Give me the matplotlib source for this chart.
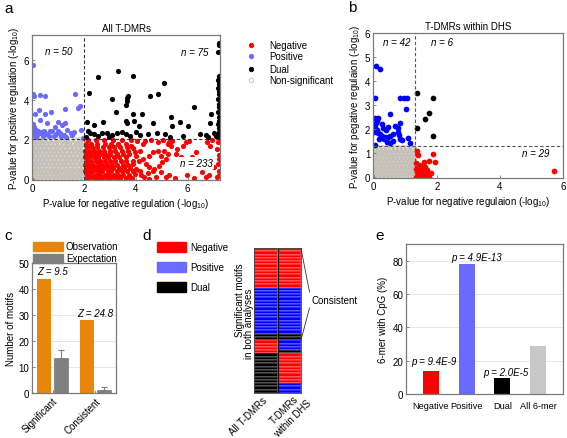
import matplotlib
matplotlib.use('Agg')
import matplotlib.pyplot as plt
from matplotlib.lines import Line2D
from matplotlib.patches import Rectangle
from matplotlib.colors import ListedColormap
import numpy as np

plt.rcParams['font.family'] = ['Liberation Sans', 'DejaVu Sans']
plt.rcParams['mathtext.fontset'] = 'custom'
plt.rcParams['mathtext.rm'] = 'Liberation Sans'
plt.rcParams['mathtext.it'] = 'Liberation Sans:italic'
FS = 7.0
plt.rcParams['font.size'] = FS

# ---------------- data ----------------
# Panel a: All T-DMRs (x: -log10 P negative, y: -log10 P positive)
a_positive = [(0.01,5.78),(0.01,4.29),(0.05,4.17),(0.30,4.25),(0.50,4.20),(1.65,4.29),(1.85,3.70),(1.76,3.58),
              (0.27,3.50),(0.10,3.28),(0.72,3.36),(0.50,3.30),(1.24,3.53),(0.30,3.00),(0.00,2.80),(0.00,2.68),
              (0.02,2.52),(0.05,2.35),(0.00,2.20),(0.56,2.85),(0.97,2.90),(1.24,2.82),(1.14,2.70),(0.86,2.60),
              (0.15,2.47),(0.44,2.44),(0.67,2.44),(1.00,2.44),(0.30,2.30),(0.18,2.20),(0.38,2.35),(0.56,2.28),
              (0.76,2.40),(0.90,2.25),(1.08,2.32),(1.20,2.22),(1.34,2.45),(1.48,2.30),(1.52,2.20),(1.88,2.48),
              (0.12,2.12),(0.22,2.40),(0.62,2.15),(0.82,2.18),(1.30,2.10),(1.60,2.38),(0.05,2.60),(0.40,2.18),
              (1.10,2.15),(1.95,2.08)]
a_dual = [(7.20,6.90),(7.21,6.75),(7.19,6.40),(7.20,5.20),(7.17,5.00),(7.21,4.80),(7.18,4.60),(7.20,4.45),
          (7.21,4.30),(7.19,4.05),(7.20,3.80),(7.21,3.65),(7.17,3.40),(7.20,3.15),(7.21,2.95),(7.19,2.75),
          (7.20,2.55),(7.21,2.35),(7.18,2.20),(7.20,2.10),
          (3.32,5.46),(2.55,5.13),(3.90,5.18),(5.10,4.87),(2.17,4.32),(3.70,4.17),(3.64,4.07),(3.67,3.95),
          (4.54,4.20),(4.86,4.29),(3.06,4.03),(3.60,3.73),(6.24,3.61),(3.23,3.36),(3.87,3.28),(4.22,3.28),
          (6.90,3.28),(2.10,2.86),(2.36,2.72),(2.72,2.86),(3.60,2.94),(3.64,2.82),(3.92,2.94),(4.13,2.69),
          (4.67,2.82),(5.35,3.11),(5.70,2.89),(5.40,2.69),(6.00,2.66),(6.85,2.82),
          (2.13,2.40),(2.23,2.30),(2.38,2.27),(2.55,2.18),(2.68,2.30),(2.87,2.33),(3.06,2.22),(3.28,2.30),
          (3.60,2.27),(3.76,2.15),(4.15,2.22),(4.47,2.27),(4.80,2.33),(5.12,2.27),(5.31,2.13),(5.82,2.15),
          (6.46,2.27),(6.72,2.22),(6.78,2.13),(7.03,2.30),(7.10,2.15),(2.05,2.10),(2.95,2.12),(3.45,2.38),
          (4.00,2.36)]
a_negative_dense_rows = {
    0.03: [2.05,2.20,2.38,2.55,2.70,2.88,3.05,3.22,3.40,3.62,3.85],
    0.20: [2.10,2.28,2.45,2.62,2.80,2.97,3.15,3.30,3.50,3.72],
    0.38: [2.02,2.18,2.35,2.52,2.70,2.90,3.05,3.25,3.45,3.65,3.90],
    0.55: [2.08,2.25,2.42,2.60,2.78,2.95,3.12,3.35,3.55,3.78],
    0.72: [2.02,2.18,2.35,2.55,2.70,2.88,3.08,3.28,3.50,3.70],
    0.90: [2.10,2.28,2.45,2.62,2.80,3.00,3.18,3.42,3.62,3.88],
    1.08: [2.02,2.20,2.38,2.55,2.75,2.92,3.15,3.35,3.60],
    1.25: [2.08,2.25,2.45,2.62,2.82,3.00,3.25,3.50,3.75],
    1.42: [2.02,2.18,2.38,2.58,2.75,2.98,3.20,3.45,3.70],
    1.60: [2.10,2.30,2.50,2.72,2.95,3.15,3.40,3.65],
    1.78: [2.05,2.25,2.50,2.80,3.05,3.30,3.62],
    1.95: [2.15,2.45,2.75,3.10,3.45,3.80],
}
a_negative_sparse = [(3.82,1.68),(3.95,1.34),(4.14,1.43),(4.27,1.00),(3.88,0.76),(4.14,0.42),(3.82,0.00),(4.33,0.08),
                     (4.52,0.00),(4.71,0.50),(4.90,0.67),(5.02,0.84),(5.16,1.00),(5.10,1.43),(5.29,1.85),(5.41,1.93),
                     (5.60,1.51),(5.80,1.68),(5.93,1.85),(6.05,1.93),(5.54,1.26),(5.73,1.09),(5.22,1.26),(6.31,1.34),
                     (6.76,1.85),(6.88,1.68),(7.14,1.51),(7.17,1.85),(7.20,1.20),(7.17,0.76),(7.20,0.42),(7.14,0.08),
                     (6.82,0.17),(6.69,0.08),(6.56,0.34),(5.99,0.17),(5.29,0.17),(5.16,0.08),(4.97,0.34),(4.78,0.08),
                     (4.65,0.42),(4.52,0.59),(4.40,0.76),(4.01,0.50),(3.95,0.25),(4.20,0.17),(4.01,1.17),(4.52,1.17),
                     (4.65,1.34),(4.84,1.43),(4.97,1.17),(4.84,1.85),(5.22,1.76),(4.27,1.76),(5.35,1.68),(6.18,1.09),
                     (6.37,1.00),(6.69,0.84),(7.01,0.59),(6.44,0.67),(4.03,1.90),(4.35,1.90),(4.60,1.95),(3.90,1.55),
                     (4.10,0.90),(4.45,0.30),(5.05,1.95),(5.50,0.05),(6.25,0.05),(7.20,0.20),(7.20,1.00),(6.95,1.95)]
a_nonsig_rows = {
    0.02: [0.00,0.15,0.30,0.45,0.60,0.75,0.90,1.05,1.20,1.35,1.50,1.65,1.80,1.95],
    0.11: [0.08,0.24,0.37,0.53,0.66,0.83,0.97,1.12,1.27,1.43,1.57,1.72,1.88],
    0.20: [0.05,0.22,0.38,0.52,0.68,0.85,1.00,1.17,1.32,1.48,1.62,1.78,1.92],
    0.31: [0.02,0.12,0.29,0.43,0.58,0.74,0.88,1.03,1.19,1.35,1.50,1.66,1.83,1.97],
    0.40: [0.00,0.14,0.30,0.46,0.60,0.77,0.92,1.08,1.25,1.40,1.55,1.72,1.88],
    0.50: [0.09,0.24,0.38,0.54,0.69,0.84,1.00,1.16,1.31,1.48,1.64,1.79,1.95],
    0.60: [0.07,0.22,0.37,0.53,0.70,0.85,1.00,1.15,1.30,1.47,1.63,1.80,1.96],
    0.71: [0.01,0.13,0.29,0.45,0.61,0.77,0.92,1.07,1.23,1.39,1.55,1.71,1.87],
    0.80: [0.00,0.15,0.30,0.45,0.62,0.78,0.93,1.10,1.25,1.40,1.57,1.72,1.90],
    0.90: [0.09,0.23,0.38,0.55,0.70,0.86,1.01,1.17,1.33,1.49,1.64,1.81,1.95],
    1.00: [0.06,0.22,0.38,0.53,0.68,0.85,1.02,1.18,1.33,1.50,1.66,1.83,1.97],
    1.10: [0.00,0.13,0.30,0.45,0.61,0.77,0.93,1.09,1.26,1.41,1.58,1.74,1.90],
    1.20: [0.00,0.14,0.30,0.46,0.60,0.76,0.92,1.08,1.24,1.42,1.58,1.75,1.90],
    1.31: [0.08,0.23,0.37,0.53,0.69,0.84,0.99,1.16,1.32,1.49,1.65,1.82,1.96],
    1.40: [0.07,0.22,0.38,0.54,0.70,0.86,1.00,1.16,1.35,1.52,1.68,1.85],
    1.50: [0.00,0.14,0.30,0.47,0.62,0.78,0.93,1.09,1.26,1.43,1.60,1.77,1.93],
    1.60: [0.00,0.15,0.30,0.46,0.62,0.78,0.95,1.12,1.28,1.45,1.62,1.80,1.95],
    1.70: [0.08,0.24,0.40,0.55,0.72,0.88,1.03,1.20,1.37,1.55,1.70,1.88],
    1.80: [0.05,0.20,0.36,0.52,0.70,0.90,1.05,1.25,1.40,1.60,1.78,1.92],
    1.90: [0.00,0.14,0.28,0.45,0.64,0.82,1.15,1.33,1.70,1.96],
    1.97: [0.05,0.20,0.40,0.60,0.95,1.22,1.48,1.85],
}
a_counts = {'n = 50': (1.0, 6.45), 'n = 75': (6.27, 6.4), 'n = 233': (6.35, 0.8)}

# Panel b: T-DMRs within DHS
b_positive = [(0.08,4.62),(0.21,4.50),(0.05,3.30),(0.84,3.30),(0.95,3.30),(1.05,3.30),(1.03,2.86),(0.53,2.63),
              (0.05,2.45),(0.13,2.48),(0.68,2.12),(0.84,2.26),(0.76,2.05),
              (0.08,2.25),(0.05,2.08),(0.10,1.95),(0.15,1.85),(0.20,1.78),(0.28,1.72),(0.36,1.68),(0.45,1.66),
              (0.52,1.70),(0.60,1.78),(0.38,1.95),(0.30,2.05),(0.45,2.10),(0.25,2.20),(0.02,1.90),(0.02,2.20),
              (0.78,1.90),(0.80,1.75),(0.82,1.60),(1.10,1.65),(0.05,1.35),(0.42,1.48),(0.53,1.41),(1.16,1.41),
              (0.18,1.60),(0.60,1.50),(0.90,1.55),(0.12,2.35),(0.33,1.58)]
b_dual = [(1.37,3.51),(1.89,3.30),(1.77,2.66),(1.63,2.42),(1.37,2.06),(1.89,1.71)]
b_negative = [(1.37,1.09),(1.39,0.93),(1.89,0.95),(1.77,0.69),(1.95,0.65),(1.58,0.51),(1.63,0.42),(1.53,0.37),
              (1.68,0.30),(1.58,0.23),(1.53,0.12),(1.63,0.03),(1.42,0.03),(1.37,0.20),(1.39,0.37),(1.47,0.30),
              (1.74,0.03),(1.82,0.17),(1.70,0.14),(1.35,0.03),(1.45,0.50),(1.33,0.60),(1.50,0.05),(1.66,0.08),
              (1.56,0.00),(1.35,0.35),(1.43,0.16),(1.60,0.62),(5.70,0.28)]
b_nonsig_rows = {
    0.02: [0.00,0.13,0.26,0.39,0.52,0.65,0.78,0.91,1.04,1.17,1.28],
    0.10: [0.06,0.19,0.32,0.45,0.58,0.71,0.84,0.97,1.10,1.23],
    0.18: [0.02,0.15,0.28,0.41,0.54,0.67,0.80,0.93,1.06,1.19,1.28],
    0.27: [0.08,0.21,0.34,0.47,0.60,0.73,0.86,0.99,1.12,1.25],
    0.35: [0.00,0.13,0.26,0.39,0.52,0.65,0.78,0.91,1.04,1.17,1.28],
    0.44: [0.06,0.19,0.32,0.45,0.58,0.71,0.84,0.97,1.10,1.23],
    0.52: [0.02,0.15,0.28,0.41,0.54,0.67,0.80,0.93,1.06,1.19,1.28],
    0.61: [0.08,0.21,0.34,0.47,0.60,0.73,0.86,0.99,1.12,1.25],
    0.69: [0.00,0.13,0.26,0.39,0.52,0.65,0.78,0.91,1.04,1.17,1.28],
    0.78: [0.06,0.19,0.32,0.45,0.58,0.71,0.84,0.97,1.10,1.23],
    0.86: [0.02,0.15,0.28,0.41,0.54,0.67,0.80,0.93,1.06,1.19,1.28],
    0.95: [0.08,0.21,0.34,0.47,0.60,0.73,0.86,0.99,1.12,1.25],
    1.03: [0.00,0.13,0.26,0.39,0.52,0.65,0.78,0.91,1.04,1.17,1.28],
    1.12: [0.06,0.19,0.32,0.45,0.58,0.71,0.84,0.97,1.10,1.23],
    1.20: [0.02,0.15,0.28,0.41,0.54,0.67,0.80,0.93,1.06,1.19,1.28],
}
b_counts = {'n = 42': (0.72, 5.63), 'n = 6': (2.16, 5.63), 'n = 29': (5.14, 1.0)}

# Panel c
c_groups = ['Significant', 'Consistent']
c_observation = [44.0, 28.0]
c_expectation = [13.4, 1.3]
c_expectation_err = [3.2, 1.2]
c_z = ['Z = 9.5', 'Z = 24.8']

# Panel d: 0 = Negative, 1 = Positive, 2 = Dual (rows top to bottom)
d_all_tdmrs = [0]*12 + [1]*14 + [2]*2 + [0]*4 + [2]*12
d_within_dhs = [0]*12 + [1]*14 + [2]*2 + [1]*3 + [2]*1 + [0]*9 + [1]*3
d_columns = ['All T-DMRs', 'T-DMRs\nwithin DHS']

# Panel e
e_categories = ['Negative', 'Positive', 'Dual', 'All 6-mer']
e_values = [14.0, 78.0, 9.4, 29.0]
e_pvalues = ['p = 9.4E-9', 'p = 4.9E-13', 'p = 2.0E-5', '']

# ---------------- styling ----------------
RED = '#ff0000'
LBLUE = '#6a6aff'
BLUE = '#0000ff'
BLACK = '#000000'
GREYC = '#c4c0b8'
ORANGE = '#e8860c'
SPINE = '#7a7a7a'

W, H = 567, 439
fig = plt.figure(figsize=(W/100, H/100), dpi=100)

def rect(l, t, r, b):
    return [l/W, 1 - b/H, (r-l)/W, (b-t)/H]

def fx(px):
    return px/W

def fy(py):
    return 1 - py/H

def style_axes(ax):
    for s in ax.spines.values():
        s.set_color(SPINE)
        s.set_linewidth(0.9)
    ax.tick_params(labelsize=FS, length=2, width=0.6, color=SPINE, pad=2, direction='in')

def rows_to_xy(rows):
    xs, ys = [], []
    for y, xl in rows.items():
        for x in xl:
            xs.append(x)
            ys.append(y)
    return xs, ys

def unzip(pts):
    return [p[0] for p in pts], [p[1] for p in pts]

MS = 14

# ---------------- panel a ----------------
ax = fig.add_axes(rect(32, 36, 220, 181))
style_axes(ax)
gx, gy = rows_to_xy(a_nonsig_rows)
ax.scatter(gx, gy, s=MS, facecolors='none', edgecolors=GREYC, linewidths=0.8, clip_on=True)
nx, ny = rows_to_xy(a_negative_dense_rows)
sx, sy = unzip(a_negative_sparse)
ax.scatter(nx + sx, ny + sy, s=MS, c=RED, linewidths=0)
px_, py_ = unzip(a_positive)
ax.scatter(px_, py_, s=MS, c=LBLUE, linewidths=0)
dx, dy = unzip(a_dual)
ax.scatter(dx, dy, s=MS, c=BLACK, linewidths=0)
ax.axvline(2, color='#333333', lw=0.8, ls=(0, (3, 2)))
ax.axhline(2, color='#333333', lw=0.8, ls=(0, (3, 2)))
ax.set_xlim(-0.02, 7.25)
ax.set_ylim(-0.06, 7.28)
ax.set_xticks([0, 2, 4, 6])
ax.set_yticks([0, 2, 4, 6])
for t, (x, y) in a_counts.items():
    kw = dict(bbox=dict(facecolor='white', edgecolor='none', pad=1)) if t == 'n = 233' else {}
    ax.text(x, y, t, ha='center', va='center', style='italic', fontsize=FS, zorder=5, **kw)
ax.set_title('All T-DMRs', fontsize=FS, pad=3)
ax.set_xlabel('P-value for negative regulation (-log$_{10}$)', fontsize=FS, labelpad=2)
ax.set_ylabel('P-value for positive regulation (-log$_{10}$)', fontsize=FS, labelpad=2)

# legend a
leg_items = [('Negative', RED, True), ('Positive', LBLUE, True), ('Dual', BLACK, True), ('Non-significant', GREYC, False)]
for i, (lab, col, filled) in enumerate(leg_items):
    yy = [45.7, 57.3, 69.7, 81.0][i]
    fig.add_artist(Line2D([fx(251)], [fy(yy)], marker='o', ms=3.2, lw=0,
                          mfc=col if filled else 'none', mec=col, mew=0.6, transform=fig.transFigure))
    fig.text(fx(269), fy(yy), lab, ha='left', va='center', fontsize=FS)

# ---------------- panel b ----------------
bx = fig.add_axes(rect(373, 34, 563, 179))
style_axes(bx)
gx, gy = rows_to_xy(b_nonsig_rows)
bx.scatter(gx, gy, s=MS, facecolors='none', edgecolors=GREYC, linewidths=0.8)
x_, y_ = unzip(b_positive)
bx.scatter(x_, y_, s=MS+3, c=BLUE, linewidths=0)
x_, y_ = unzip(b_dual)
bx.scatter(x_, y_, s=MS+3, c=BLACK, linewidths=0)
x_, y_ = unzip(b_negative)
bx.scatter(x_, y_, s=MS+3, c=RED, linewidths=0)
bx.axvline(1.3, color='#555555', lw=0.8, ls=(0, (3, 2)))
bx.axhline(1.3, color='#555555', lw=0.8, ls=(0, (3, 2)))
bx.set_xlim(-0.02, 6)
bx.set_ylim(-0.03, 6)
bx.set_xticks([0, 2, 4, 6])
bx.set_yticks([0, 1, 2, 3, 4, 5, 6])
for t, (x, y) in b_counts.items():
    bx.text(x, y, t, ha='center', va='center', style='italic', fontsize=FS)
bx.set_title('T-DMRs within DHS', fontsize=FS, pad=3)
bx.set_xlabel('P-value for negative regulaion (-log$_{10}$)', fontsize=FS, labelpad=2)
bx.set_ylabel('P-value for pegative regulaion (-log$_{10}$)', fontsize=FS, labelpad=2)

# ---------------- panel c ----------------
cx = fig.add_axes(rect(32, 264, 116, 394))
style_axes(cx)
pos = np.arange(1, len(c_groups) + 1)
cx.set_axisbelow(True)
cx.yaxis.grid(True, color='#e3e3e3', lw=0.6)
cx.bar(pos - 0.195, c_observation, width=0.33, color=ORANGE, edgecolor='none', label='Observation')
cx.bar(pos + 0.195, c_expectation, width=0.33, color='#808080', edgecolor='#6a6a6a', lw=0.4, label='Expectation')
cx.errorbar(pos + 0.195, c_expectation, yerr=[[0, 0], c_expectation_err], fmt='none', ecolor='#808080',
            elinewidth=0.8, capsize=2, capthick=0.8)
for i, z in enumerate(c_z):
    cx.text(pos[i], c_observation[i] + 2.8, z, ha='center', va='center', style='italic', fontsize=FS)
cx.set_xlim(0.52, 2.48)
cx.set_ylim(0, 50)
cx.set_yticks([0, 10, 20, 30, 40, 50])
cx.set_xticks(pos)
cx.set_xticklabels(c_groups, rotation=45, ha='right', rotation_mode='anchor', fontsize=FS)
cx.set_ylabel('Number of motifs', fontsize=FS, labelpad=2)
for i, (lab, col) in enumerate([('Observation', ORANGE), ('Expectation', '#808080')]):
    yy = [247.5, 259.5][i]
    fig.add_artist(Rectangle((fx(33), fy(yy + 4.5)), (63 - 33)/W, 9/H, color=col, transform=fig.transFigure))
    fig.text(fx(66), fy(yy), lab, ha='left', va='center', fontsize=FS)

# ---------------- panel d ----------------
dax = fig.add_axes(rect(254, 249, 301, 394))
cmap = ListedColormap([RED, BLUE, BLACK])
mat = np.array([d_all_tdmrs, d_within_dhs]).T
dax.pcolormesh(mat, cmap=cmap, vmin=-0.5, vmax=2.5, edgecolors=(1, 1, 1, 0.18), linewidth=0.3)
dax.set_xlim(0, 2)
dax.set_ylim(len(d_all_tdmrs), 0)
dax.axvline(1, color='black', lw=0.8)
for s in dax.spines.values():
    s.set_color('#444444')
    s.set_linewidth(0.6)
dax.set_yticks([])
dax.set_xticks([])
fig.text(fx(262), fy(396), d_columns[0], rotation=45, rotation_mode='anchor', ha='right', va='top', fontsize=FS)
fig.text(fx(298), fy(390), d_columns[1], rotation=45, rotation_mode='anchor', ha='right', va='top',
         fontsize=FS, multialignment='center')
fig.text(fx(240), fy(300), 'Significant motifs', rotation=90, ha='center', va='center', fontsize=FS)
fig.text(fx(249.5), fy(324), 'in both analyses', rotation=90, ha='center', va='center', fontsize=FS)
fig.text(fx(311), fy(301), 'Consistent', ha='left', va='center', fontsize=FS)
fig.add_artist(Line2D([fx(301), fx(309.5)], [fy(249.5), fy(293)], color='#333333', lw=0.6, transform=fig.transFigure))
fig.add_artist(Line2D([fx(301), fx(309.5)], [fy(341), fy(309)], color='#333333', lw=0.6, transform=fig.transFigure))
for i, (lab, col) in enumerate([('Negative', RED), ('Positive', LBLUE), ('Dual', BLACK)]):
    yy = [248, 268, 288][i]
    fig.add_artist(Rectangle((fx(157), fy(yy + 5)), (186 - 157)/W, 10/H, color=col, transform=fig.transFigure))
    fig.text(fx(190), fy(yy), lab, ha='left', va='center', fontsize=FS)

# ---------------- panel e ----------------
ex = fig.add_axes(rect(406, 245, 563, 395))
style_axes(ex)
ex.set_axisbelow(True)
ex.yaxis.grid(True, color='#e3e3e3', lw=0.6)
epos = np.arange(1, len(e_categories) + 1)
ex.bar(epos, e_values, width=0.44, color=[RED, LBLUE, BLACK, '#c8c8c8'], edgecolor='none')
p_text_pos = [(1.09, 19.8), (2.27, 82.2), (3.10, 13.2)]
for (x, y), t in zip(p_text_pos, e_pvalues[:3]):
    ex.text(x, y, t, ha='center', va='center', style='italic', fontsize=FS)
ex.set_xlim(0.3, 4.7)
ex.set_ylim(0, 90)
ex.set_yticks([0, 20, 40, 60, 80])
ex.set_xticks(epos)
ex.set_xticklabels(e_categories, fontsize=6.6)
ex.tick_params(axis='x', pad=5)
ex.set_ylabel('6-mer with CpG (%)', fontsize=FS, labelpad=3)

# panel letters
for lab, (x, y) in {'a': (9, 9), 'b': (352, 8), 'c': (8, 236), 'd': (147, 236), 'e': (380, 236)}.items():
    fig.text(fx(x), fy(y), lab, ha='center', va='center', fontsize=11)

fig.savefig('out.png', dpi=100)
